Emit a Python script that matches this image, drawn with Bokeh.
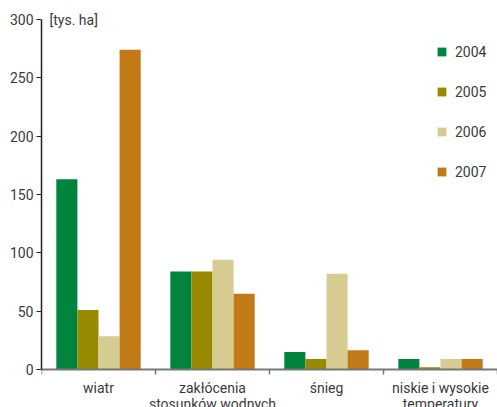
import numpy as np
from bokeh.plotting import figure
from bokeh.models import Range1d, FixedTicker, Label
from bokeh.transform import dodge
from bokeh.embed import file_html
from bokeh.resources import INLINE

categories = ["wiatr", "zakłócenia\nstosunków wodnych", "śnieg", "niskie i wysokie\ntemperatury"]
years = ["2004", "2005", "2006", "2007"]
v2004 = [163, 84, 15, 9]
v2005 = [51, 84, 9, 2]
v2006 = [28.5, 94, 82, 9]
v2007 = [274, 65, 16.5, 9]
y_ticks = [0, 50, 100, 150, 200, 250, 300]
unit_label = "[tys. ha]"

colors = ["#00843d", "#988a00", "#d6cb90", "#c17a16"]
FONT = "Roboto"
FS = "14px"
TXT = "#3a3a3a"

Y_MAX = 300
# 350px for 0..300; 19px of room above 300 and 38px below 0 for the labels
units_per_px = Y_MAX / 350
y_end = Y_MAX + 19 * units_per_px
y_start = -38 * units_per_px

xc = list(np.arange(len(categories)) + 0.5)
data = dict(x=xc, v2004=v2004, v2005=v2005, v2006=v2006, v2007=v2007)

p = figure(width=497, height=407, output_backend="svg", toolbar_location=None,
           x_range=Range1d(0, len(categories)), y_range=Range1d(y_start, y_end),
           min_border_left=41, min_border_top=0, min_border_right=0, min_border_bottom=0)
p.outline_line_color = None
p.grid.visible = False

offsets = [-0.2775, -0.0925, 0.0925, 0.2775]
for yr, col, off in zip(years, colors, offsets):
    p.vbar(x=dodge("x", off), top="v" + yr, width=0.185, bottom=0, source=data,
           fill_color=col, line_color=None, legend_label=yr)

# y axis
ya = p.yaxis[0]
ya.bounds = (0, Y_MAX)
ya.ticker = FixedTicker(ticks=y_ticks, minor_ticks=[])
ya.axis_line_color = "#222222"
ya.axis_line_width = 1.5
ya.major_tick_line_color = "#222222"
ya.major_tick_out = 5
ya.major_tick_in = 0
ya.major_label_standoff = 3
ya.major_label_text_font = FONT
ya.major_label_text_font_size = FS
ya.major_label_text_color = TXT

# x axis, drawn at y = 0
xa = p.xaxis[0]
xa.fixed_location = 0
xa.ticker = FixedTicker(ticks=xc, minor_ticks=list(range(len(categories) + 1)))
xa.major_label_overrides = {c: n for c, n in zip(xc, categories)}
xa.axis_line_color = "#777777"
xa.axis_line_width = 2
xa.major_tick_out = 0
xa.major_tick_in = 0
xa.minor_tick_line_color = "#777777"
xa.minor_tick_line_width = 1.5
xa.minor_tick_out = 5
xa.minor_tick_in = 0
xa.major_label_standoff = 5
xa.major_label_text_font = FONT
xa.major_label_text_font_size = FS
xa.major_label_text_color = TXT
xa.major_label_text_line_height = 1.03

p.add_layout(Label(x=8, y=Y_MAX, x_units="screen", text=unit_label, text_align="left",
                   text_baseline="middle", text_font=FONT, text_font_size=FS,
                   text_color=TXT))

lg = p.legend[0]
lg.location = (395, 226)
lg.border_line_color = None
lg.background_fill_alpha = 0
lg.padding = 0
lg.margin = 0
lg.spacing = 21
lg.glyph_width = 11
lg.glyph_height = 11
lg.label_height = 19
lg.label_standoff = 8
lg.label_text_font = FONT
lg.label_text_font_size = FS
lg.label_text_color = TXT

open("out.html", "w").write(file_html(p, INLINE))
